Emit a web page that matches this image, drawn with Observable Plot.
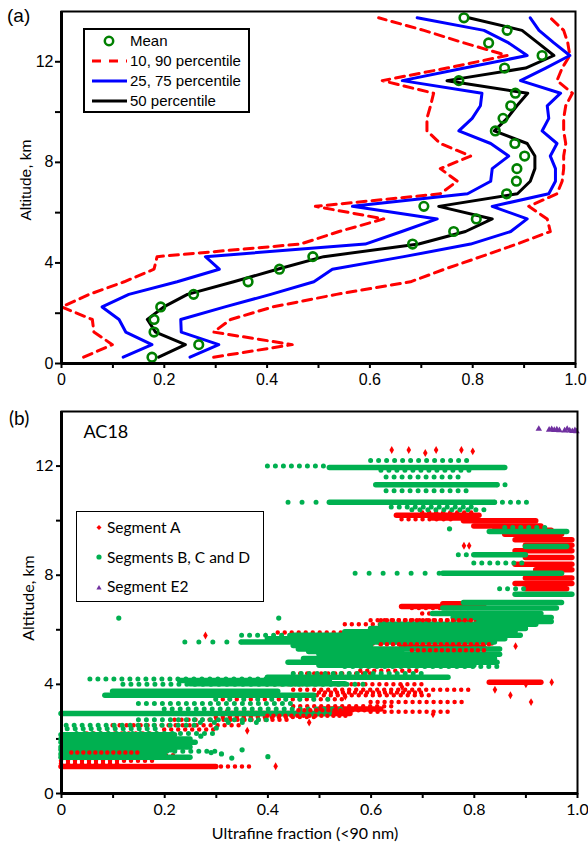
<!DOCTYPE html>
<html><head><meta charset="utf-8">
<script src="https://cdn.jsdelivr.net/npm/d3@7"></script>
<script src="https://cdn.jsdelivr.net/npm/@observablehq/plot@0.6"></script>
<style>
body{margin:0;background:#fff;}
#page{position:relative;width:588px;height:843px;overflow:hidden;background:#fff;}
#pa{position:absolute;left:0;top:0;}
#pb{position:absolute;left:0;top:398px;}
.t{position:absolute;white-space:nowrap;color:#000;}
.arial{font-family:"Liberation Sans",Arial,sans-serif;}
.cal{font-family:Lato,"Open Sans",sans-serif;}
.rot{transform:translate(-50%,-50%) rotate(-90deg);}
.ctr{transform:translate(-50%,-50%);}
svg [aria-label$="tick"]{stroke-width:2px;}
</style></head>
<body><div id="page">
<div id="pa"></div><div id="pb"></div>
<div class="t arial" style="left:7px;top:5px;font-size:19px;">(a)</div>
<div class="t arial rot" style="left:26px;top:180px;font-size:15.5px;">Altitude, km</div>
<div class="t cal" style="left:9px;top:406px;font-size:19px;">(b)</div>
<div class="t cal rot" style="left:27px;top:598px;font-size:16px;">Altitude, km</div>
<div class="t cal ctr" style="left:305px;top:832px;font-size:16px;">Ultrafine fraction (&lt;90 nm)</div>
<div id="legA" style="position:absolute;left:83px;top:28px;width:163px;height:81px;border:2px solid #000;background:#fff;">
<svg width="163" height="81" style="position:absolute;left:0;top:0">
<circle cx="24" cy="11" r="4.2" fill="none" stroke="#008000" stroke-width="2.5"/>
<line x1="7" y1="31" x2="42" y2="31" stroke="#ff0000" stroke-width="3" stroke-dasharray="9,8"/>
<line x1="7" y1="51" x2="42" y2="51" stroke="#0000ff" stroke-width="3"/>
<line x1="7" y1="71" x2="42" y2="71" stroke="#000" stroke-width="3"/>
</svg>
<div class="t arial" style="left:45px;top:2px;font-size:15px;">Mean</div>
<div class="t arial" style="left:45px;top:22px;font-size:15px;">10, 90 percentile</div>
<div class="t arial" style="left:45px;top:42px;font-size:15px;">25, 75 percentile</div>
<div class="t arial" style="left:45px;top:62px;font-size:15px;">50 percentile</div>
</div>
<div id="legB" style="position:absolute;left:76px;top:511px;width:186px;height:89px;border:1.5px solid #000;background:#fff;">
<svg width="186" height="89" style="position:absolute;left:0;top:0">
<path d="M22,13 l2.5,2.5 l-2.5,2.5 l-2.5,-2.5z" fill="#ff0000"/>
<circle cx="22" cy="45" r="2.6" fill="#00b050"/>
<path d="M22,73 l2.6,4.5 h-5.2z" fill="#7030a0"/>
</svg>
<div class="t cal" style="left:30px;top:6px;font-size:15.5px;">Segment A</div>
<div class="t cal" style="left:30px;top:36px;font-size:15.5px;">Segments B, C and D</div>
<div class="t cal" style="left:30px;top:65px;font-size:15.5px;">Segment E2</div>
</div>
</div>
<script>
// ---------- Panel (a) data ----------
const altA = [0.25,0.75,1.25,1.75,2.25,2.75,3.25,3.75,4.25,4.75,5.25,5.75,6.25,6.75,7.25,7.75,8.25,8.75,9.25,9.75,10.25,10.75,11.25,11.75,12.25,12.75,13.25,13.75];
const meanA = [0.176,0.267,0.180,0.180,0.193,0.257,0.363,0.424,0.489,0.683,0.763,0.807,0.705,0.866,0.885,0.886,0.901,0.882,0.844,0.859,0.874,0.883,0.773,0.862,0.935,0.831,0.867,0.783];
const p50A = [0.189,0.241,0.183,0.167,0.199,0.245,0.335,0.420,0.510,0.695,0.786,0.838,0.734,0.887,0.912,0.921,0.921,0.906,0.842,0.867,0.886,0.907,0.750,0.903,0.958,0.927,0.896,0.792];
const p25A = [0.120,0.176,0.125,0.112,0.079,0.131,0.225,0.307,0.280,0.591,0.662,0.731,0.566,0.790,0.835,0.838,0.870,0.835,0.773,0.799,0.815,0.818,0.663,0.784,0.906,0.870,0.822,0.692];
const p75A = [0.250,0.306,0.233,0.232,0.318,0.407,0.491,0.527,0.666,0.796,0.874,0.906,0.838,0.948,0.961,0.961,0.951,0.964,0.935,0.948,0.945,0.971,0.893,0.942,0.989,0.958,0.929,0.912];
const p10A = [0.043,0.099,0.063,0.060,0.000,0.054,0.122,0.180,0.186,0.465,0.540,0.627,0.494,0.737,0.770,0.737,0.796,0.737,0.711,0.711,0.718,0.724,0.624,0.750,0.867,0.783,0.705,0.617];
const p90A = [0.296,0.449,0.296,0.329,0.411,0.535,0.679,0.745,0.816,0.886,0.951,0.945,0.909,0.964,0.974,0.977,0.977,0.981,0.977,0.977,0.981,0.994,0.964,0.974,0.989,0.985,0.977,0.951];
const xTicks = [0,0.1,0.2,0.3,0.4,0.5,0.6,0.7,0.8,0.9,1.0];
const xTickLabels = ["0","","0.2","","0.4","","0.6","","0.8","","1.0"];
const yTicks = [0,2,4,6,8,10,12];
const yTickLabels = ["0","","4","","8","","12"];

// ---------- Panel (b) data: streaks [altitude, x from, x to] and single points [x, altitude] ----------
const redDense = [[10.2,0.65,0.81],[10.1,0.72,0.80],[10.0,0.78,0.92],[9.8,0.80,0.93],[9.65,0.84,0.95],[9.5,0.86,0.97],[9.3,0.88,0.99],[9.1,0.90,0.99],
  [8.9,0.88,0.99],[8.65,0.90,0.99],[8.4,0.88,0.99],[8.2,0.92,0.99],[7.9,0.90,0.99],[7.7,0.88,0.99],[7.5,0.90,0.98],
  [6.95,0.74,0.82],[6.85,0.66,0.74],[5.35,0.66,0.82],[5.2,0.70,0.80],[4.08,0.83,0.93],[3.1,0.50,0.62],[2.93,0.33,0.56],[0.99,0.0,0.30]];
const redSparse = [[10.05,0.66,0.76],[10.3,0.70,0.80],[6.8,0.68,0.80],[6.6,0.70,0.80],[6.35,0.60,0.88],[6.2,0.55,0.70],[5.9,0.42,0.60],
  [5.5,0.55,0.84],[5.1,0.62,0.84],[4.9,0.70,0.75],[4.5,0.58,0.70],[4.4,0.45,0.60],[4.0,0.40,0.70],[3.8,0.45,0.80],[3.6,0.36,0.72],
  [3.35,0.60,0.78],[3.45,0.30,0.55],[3.2,0.45,0.65],[3.0,0.60,0.75],[2.8,0.30,0.50],[2.7,0.22,0.45],[2.5,0.10,0.35],[2.35,0.20,0.30],
  [2.2,0.05,0.20],[1.6,0.0,0.20],[1.4,0.0,0.22],[1.2,0.0,0.18],[1.1,0.0,0.12],[0.99,0.31,0.37]];
const redOver = [[6.35,0.62,0.80],[5.47,0.62,0.84],[5.25,0.68,0.82],[3.7,0.50,0.70],[3.05,0.46,0.60],[2.85,0.40,0.56],[1.5,0.02,0.15]];
const redPoints = [[0.640,12.59],[0.673,12.59],[0.705,12.48],[0.726,12.59],[0.775,12.59],[0.797,12.54],[0.78,9.08],[0.79,9.08],
  [0.279,5.79],[0.91,3.35],[0.87,3.6],[0.84,3.8],[0.95,4.08],[0.72,5.6],[0.80,5.5],[0.36,2.3],[0.32,3.0],[0.415,1.0],[0.72,2.9],
  [0.88,5.4],[0.90,4.0],[0.66,3.9],[0.55,3.55],[0.48,2.6]];
const greenDense = [[11.95,0.52,0.86],[11.32,0.61,0.845],[10.67,0.52,0.84],[9.6,0.83,0.98],[9.05,0.90,0.98],[8.75,0.80,0.90],
  [8.07,0.74,0.97],[7.3,0.88,0.99],[7.0,0.78,0.97],[6.8,0.74,0.96],[6.6,0.72,0.93],[6.45,0.76,0.95],[6.3,0.81,0.95],[6.2,0.62,0.92],
  [6.05,0.60,0.90],[5.93,0.55,0.88],[5.8,0.45,0.89],[5.67,0.40,0.86],[5.55,0.35,0.84],[5.42,0.45,0.60],[5.3,0.46,0.85],[5.2,0.48,0.66],
  [5.1,0.50,0.85],[4.95,0.47,0.84],[4.81,0.44,0.845],[4.7,0.50,0.80],
  [4.26,0.40,0.75],[4.14,0.23,0.52],[4.02,0.25,0.55],[3.75,0.10,0.42],[3.6,0.085,0.49],[2.93,0.0,0.52],[2.15,0.0,0.22],
  [2.0,0.0,0.25],[1.88,0.0,0.26],[1.7,0.0,0.25],[1.6,0.0,0.22],[1.45,0.0,0.20],[1.33,0.0,0.25]];
const greenSparse = [[12.2,0.60,0.80],[12.0,0.40,0.52],[11.85,0.62,0.80],[11.6,0.63,0.77],[11.32,0.845,0.87],[11.1,0.63,0.80],
  [10.67,0.84,0.91],[10.5,0.64,0.80],[10.4,0.68,0.83],[9.75,0.86,0.95],[8.75,0.77,0.80],[8.45,0.80,0.90],
  [7.5,0.85,0.90],[5.8,0.35,0.45],[4.65,0.55,0.85],[4.4,0.45,0.70],[4.2,0.056,0.40],
  [4.0,0.12,0.60],[3.3,0.15,0.45],[3.1,0.20,0.55],[2.7,0.15,0.40],[2.5,0.01,0.27],[2.37,0.012,0.19],[2.2,0.03,0.30],[1.55,0.05,0.30]];
const greenVerySparse = [[10.67,0.44,0.52],[8.07,0.57,0.74],[5.55,0.24,0.35],[3.45,0.30,0.52],[2.6,0.27,0.40]];
const greenPoints = [[0.111,6.43],[0.421,6.43],[0.752,9.7],[0.29,1.5],[0.31,1.45],[0.35,1.6],[0.40,1.35],[0.33,1.3],[0.27,2.1],[0.30,2.4]];
const purplePoints = [[0.925,13.36],[0.945,13.33],[0.95,13.35],[0.955,13.32],[0.96,13.34],[0.965,13.31],[0.975,13.30],
  [0.98,13.36],[0.985,13.30],[0.99,13.28],[0.995,13.31],[0.998,13.27]];

const RED = "#ff0000", GREEN = "#00b050", PURPLE = "#7030a0";

const rowsA = altA.map((a,i)=>({alt:a, mean:meanA[i], p10:p10A[i], p25:p25A[i], p50:p50A[i], p75:p75A[i], p90:p90A[i]}));

const plotA = Plot.plot({
  width:588, height:395, marginLeft:61, marginRight:13, marginTop:11, marginBottom:32,
  style:{fontFamily:'"Liberation Sans",Arial,sans-serif', fontSize:"16px", color:"#000", background:"#fff", overflow:"visible"},
  x:{domain:[0,1], ticks:xTicks, tickFormat:(d)=>xTickLabels[xTicks.indexOf(d)], tickSize:5, tickPadding:5, label:null},
  y:{domain:[0,14], ticks:yTicks, tickFormat:(d)=>yTickLabels[yTicks.indexOf(d)], tickSize:6, tickPadding:2, label:null},
  marks:[
    Plot.line(rowsA,{x:"p10",y:"alt",stroke:RED,strokeWidth:3,strokeDasharray:"9,6"}),
    Plot.line(rowsA,{x:"p90",y:"alt",stroke:RED,strokeWidth:3,strokeDasharray:"9,6"}),
    Plot.line(rowsA,{x:"p25",y:"alt",stroke:"#0000ff",strokeWidth:3}),
    Plot.line(rowsA,{x:"p75",y:"alt",stroke:"#0000ff",strokeWidth:3}),
    Plot.line(rowsA,{x:"p50",y:"alt",stroke:"#000",strokeWidth:3}),
    Plot.dot(rowsA,{x:"mean",y:"alt",r:4.3,stroke:"#008000",strokeWidth:2.6,fill:"none"}),
    Plot.frame({stroke:"#000",strokeWidth:2}),
    Plot.ruleX([0],{stroke:"#000",strokeWidth:3}),
    Plot.ruleY([0],{stroke:"#000",strokeWidth:3})
  ]
});
document.getElementById("pa").appendChild(plotA);

const streak = {y:d=>d[0],x1:d=>d[1],x2:d=>d[2],strokeLinecap:"round"};
const plotB = Plot.plot({
  width:588, height:445, marginLeft:61, marginRight:11, marginTop:13, marginBottom:50,
  style:{fontFamily:'Lato,"Open Sans",sans-serif', fontSize:"16px", color:"#000", background:"#fff", overflow:"visible"},
  x:{domain:[0,1], ticks:xTicks, tickFormat:(d)=>xTickLabels[xTicks.indexOf(d)], tickSize:5, tickPadding:5, label:null},
  y:{domain:[0,14], ticks:yTicks, tickFormat:(d)=>yTickLabels[yTicks.indexOf(d)], tickSize:5, tickPadding:3, label:null},
  marks:[
    Plot.ruleY(redSparse,{...streak,stroke:RED,strokeWidth:4.5,strokeDasharray:"0,7"}),
    Plot.ruleY(redDense,{...streak,stroke:RED,strokeWidth:5.5}),
    Plot.dot(redPoints,{x:d=>d[0],y:d=>d[1],r:2.4,fill:RED,symbol:"diamond"}),
    Plot.ruleY(greenSparse,{...streak,stroke:GREEN,strokeWidth:5,strokeDasharray:"0,8"}),
    Plot.ruleY(greenVerySparse,{...streak,stroke:GREEN,strokeWidth:5,strokeDasharray:"0,14"}),
    Plot.ruleY(greenDense,{...streak,stroke:GREEN,strokeWidth:5.5}),
    Plot.ruleY(redOver,{...streak,stroke:RED,strokeWidth:4.5,strokeDasharray:"0,6"}),
    Plot.dot(greenPoints,{x:d=>d[0],y:d=>d[1],r:2.6,fill:GREEN}),
    Plot.dot(purplePoints,{x:d=>d[0],y:d=>d[1],r:2.4,fill:PURPLE,symbol:"triangle"}),
    Plot.text(["AC18"],{frameAnchor:"top-left",dx:22,dy:14,fontSize:18,textAnchor:"start",lineAnchor:"top"}),
    Plot.frame({stroke:"#000",strokeWidth:2}),
    Plot.ruleX([0],{stroke:"#000",strokeWidth:3}),
    Plot.ruleY([0],{stroke:"#000",strokeWidth:3})
  ]
});
document.getElementById("pb").appendChild(plotB);
</script>
</body></html>
